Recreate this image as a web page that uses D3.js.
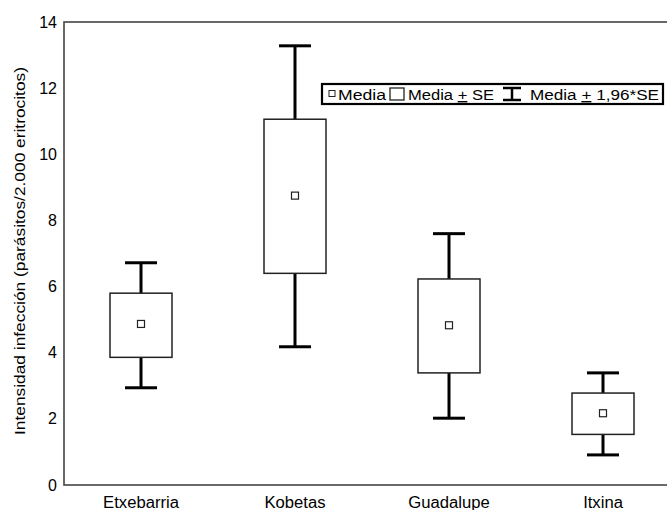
<!DOCTYPE html>
<html>
<head>
<meta charset="utf-8">
<script src="https://cdn.jsdelivr.net/npm/d3@7"></script>
<style>
  body { margin: 0; background: #fff; }
  text { font-family: "Liberation Sans", Arial, sans-serif; fill: #000; }
</style>
</head>
<body>
<div id="vis"></div>
<script>
// data
let sites = ["Etxebarria", "Kobetas", "Guadalupe", "Itxina"];
let means = [4.87, 8.75, 4.83, 2.17];
let seLow = [3.86, 6.40, 3.39, 1.53];
let seHigh = [5.80, 11.06, 6.23, 2.78];
let ciLow = [2.94, 4.18, 2.02, 0.91];
let ciHigh = [6.72, 13.28, 7.60, 3.39];
let yTicks = [0, 2, 4, 6, 8, 10, 12, 14];

let W = 667, H = 510;
let margin = { top: 22, left: 64, right: -13, bottom: 25 },
  width = W - margin.left - margin.right,
  height = H - margin.top - margin.bottom;

let svg = d3.select('#vis')
  .append('svg')
  .attr('width', W)
  .attr('height', H);

let g = svg.append('g')
  .attr('transform', `translate(${margin.left},${margin.top})`);

let data = sites.map((s, i) => ({
  site: s, mean: means[i], lo: seLow[i], hi: seHigh[i], cLo: ciLow[i], cHi: ciHigh[i]
}));

const x = d3.scaleBand()
  .domain(sites)
  .range([0, width]);

const y = d3.scaleLinear()
  .domain([0, 14])
  .range([height, 0]);

// frame
g.append('rect')
  .attr('x', 0).attr('y', 0)
  .attr('width', width).attr('height', height)
  .attr('fill', 'none')
  .attr('stroke', '#444')
  .attr('stroke-width', 1.6);

// y axis
let yAxis = g.append('g')
  .call(d3.axisLeft(y).tickValues(yTicks).tickSize(0).tickPadding(7));
yAxis.select('.domain').remove();
yAxis.selectAll('text')
  .style('font-size', '16px')
  .style('font-family', '"Liberation Sans", Arial, sans-serif');

// x axis labels
let xAxis = g.append('g')
  .attr('transform', `translate(0,${height})`)
  .call(d3.axisBottom(x).tickSize(0).tickPadding(12));
xAxis.select('.domain').remove();
xAxis.selectAll('text')
  .style('font-size', '16px')
  .style('font-family', '"Liberation Sans", Arial, sans-serif')
  .each(function () {
    let n = this.getComputedTextLength();
    d3.select(this).attr('textLength', n * 1.04).attr('lengthAdjust', 'spacingAndGlyphs');
  });

let boxW = 62, capW = 32;

let grp = g.selectAll('.site')
  .data(data)
  .enter()
  .append('g')
  .attr('class', 'site')
  .attr('transform', d => `translate(${x(d.site) + x.bandwidth() / 2},0)`);

// whiskers
grp.append('line')
  .attr('x1', 0).attr('x2', 0)
  .attr('y1', d => y(d.cHi)).attr('y2', d => y(d.hi))
  .attr('stroke', '#000').attr('stroke-width', 3);
grp.append('line')
  .attr('x1', 0).attr('x2', 0)
  .attr('y1', d => y(d.lo)).attr('y2', d => y(d.cLo))
  .attr('stroke', '#000').attr('stroke-width', 3);
grp.append('line')
  .attr('x1', -capW / 2).attr('x2', capW / 2)
  .attr('y1', d => y(d.cHi)).attr('y2', d => y(d.cHi))
  .attr('stroke', '#000').attr('stroke-width', 3);
grp.append('line')
  .attr('x1', -capW / 2).attr('x2', capW / 2)
  .attr('y1', d => y(d.cLo)).attr('y2', d => y(d.cLo))
  .attr('stroke', '#000').attr('stroke-width', 3);

// SE box
grp.append('rect')
  .attr('x', -boxW / 2)
  .attr('y', d => y(d.hi))
  .attr('width', boxW)
  .attr('height', d => y(d.lo) - y(d.hi))
  .attr('fill', '#fff')
  .attr('stroke', '#222')
  .attr('stroke-width', 1.5);

// mean marker
grp.append('rect')
  .attr('x', -3.5)
  .attr('y', d => y(d.mean) - 3.5)
  .attr('width', 7).attr('height', 7)
  .attr('fill', '#fff')
  .attr('stroke', '#222')
  .attr('stroke-width', 1.2);

// y label
svg.append('text')
  .attr('transform', 'translate(20,251) rotate(-90)')
  .attr('text-anchor', 'middle')
  .attr('dy', '0.35em')
  .attr('textLength', 368)
  .attr('lengthAdjust', 'spacingAndGlyphs')
  .style('font-size', '15px')
  .text('Intensidad infección (parásitos/2.000 eritrocitos)');

// legend
let leg = svg.append('g').attr('transform', 'translate(322,84)');
leg.append('rect')
  .attr('x', 0).attr('y', 0)
  .attr('width', 341).attr('height', 20)
  .attr('fill', '#fff')
  .attr('stroke', '#000')
  .attr('stroke-width', 2.2);

leg.append('rect')
  .attr('x', 7).attr('y', 6.5)
  .attr('width', 6).attr('height', 6)
  .attr('fill', '#fff').attr('stroke', '#222').attr('stroke-width', 1);
leg.append('text').attr('x', 16).attr('y', 16)
  .attr('textLength', 48).attr('lengthAdjust', 'spacingAndGlyphs')
  .style('font-size', '14px').text('Media');

leg.append('rect')
  .attr('x', 68).attr('y', 4)
  .attr('width', 14).attr('height', 12)
  .attr('fill', '#fff').attr('stroke', '#222').attr('stroke-width', 1.3);
let t2 = leg.append('text').attr('x', 86).attr('y', 16)
  .attr('textLength', 86).attr('lengthAdjust', 'spacingAndGlyphs')
  .style('font-size', '14px');
t2.append('tspan').text('Media ');
t2.append('tspan').style('text-decoration', 'underline').text('+');
t2.append('tspan').text(' SE');

// I-beam symbol
let ib = leg.append('g').attr('transform', 'translate(190,0)');
ib.append('line').attr('x1', 0).attr('x2', 0).attr('y1', 4).attr('y2', 16)
  .attr('stroke', '#000').attr('stroke-width', 2.5);
ib.append('line').attr('x1', -9).attr('x2', 9).attr('y1', 4).attr('y2', 4)
  .attr('stroke', '#000').attr('stroke-width', 2.5);
ib.append('line').attr('x1', -9).attr('x2', 9).attr('y1', 16).attr('y2', 16)
  .attr('stroke', '#000').attr('stroke-width', 2.5);

let t3 = leg.append('text').attr('x', 208).attr('y', 16)
  .attr('textLength', 129).attr('lengthAdjust', 'spacingAndGlyphs')
  .style('font-size', '14px');
t3.append('tspan').text('Media ');
t3.append('tspan').style('text-decoration', 'underline').text('+');
t3.append('tspan').text(' 1,96*SE');
</script>
</body>
</html>
